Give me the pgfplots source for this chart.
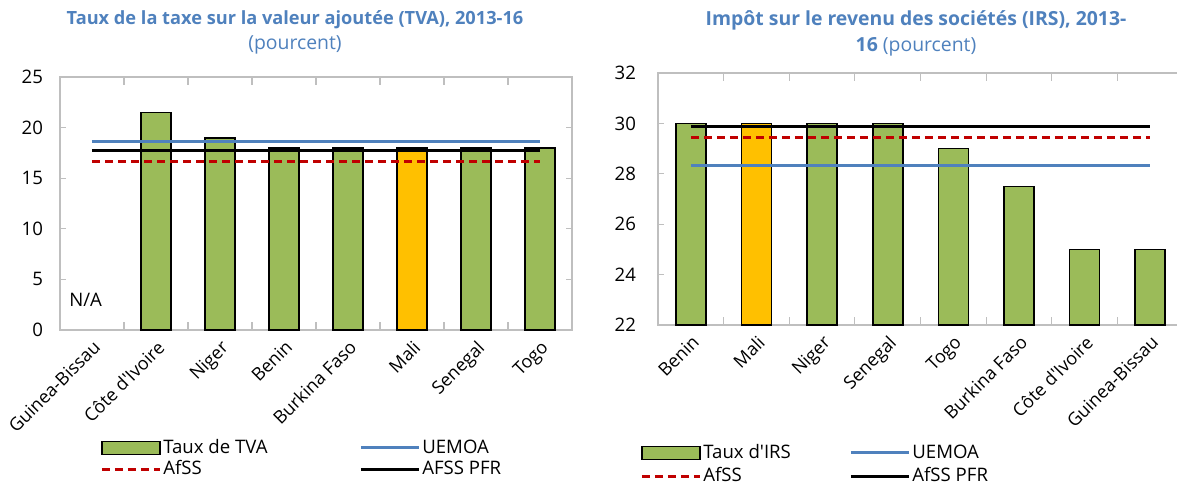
\documentclass[border=0pt]{standalone}
\usepackage{fontspec}
\setmainfont{Open Sans}
\usepackage{pgfplots}
\pgfplotsset{compat=1.18}
\definecolor{tblue}{RGB}{79,129,189}
\definecolor{bgreen}{RGB}{155,187,89}
\definecolor{borange}{RGB}{255,192,0}
\definecolor{dred}{RGB}{192,0,0}
\definecolor{agray}{RGB}{191,191,191}
\pgfplotsset{
  common/.style={
    scale only axis, anchor=south west,
    xmin=-0.5, xmax=7.5,
    xtick={0,...,7},
    minor xtick={0.5,1.5,...,6.5},
    major x tick style={draw=none},
    tick align=inside,
    major tick length=3pt, minor tick length=4pt,
    tick style={agray, line width=0.6pt},
    axis line style={agray, line width=0.8pt},
    /pgf/number format/assume math mode=true,
    tick label style={font=\fontsize{9.3}{10}\selectfont},
    x tick label style={rotate=45, anchor=north east, inner sep=1pt, font=\fontsize{9}{10}\selectfont},
    xticklabel shift=3pt,
    legend columns=2,
    legend cell align=left,
    legend style={draw=none, fill=none, inner sep=0pt, font=\fontsize{9.3}{10}\selectfont,
      nodes={inner sep=1pt}, anchor=north west},
  },
  barimg/.style={legend image code/.code={\draw[fill=bgreen, draw=black, line width=0.8pt] (0pt,-3.3pt) rectangle (29pt,3.3pt);}},
  lineimg/.style={legend image code/.code={\draw[##1] (0pt,0pt) -- (29pt,0pt);}},
}
\begin{document}
\begin{tikzpicture}
\useasboundingbox (0,0) rectangle (588.5pt,244.5pt);
% titles
\node[font=\fontsize{9.1}{10}\bfseries\selectfont, text=tblue] at (147.5pt,234.5pt) {Taux de la taxe sur la valeur ajoutée (TVA), 2013-16};
\node[font=\fontsize{9.7}{10}\selectfont, text=tblue] at (147.5pt,222pt) {(pourcent)};
\node[font=\fontsize{9.7}{10}\bfseries\selectfont, text=tblue] at (458pt,234.5pt) {Impôt sur le revenu des sociétés (IRS), 2013-};
\node[font=\fontsize{9.7}{10}\selectfont, text=tblue] at (458pt,221pt) {\textbf{16} (pourcent)};

% left chart
\begin{axis}[common,
  at={(30pt,79.5pt)}, width=256pt, height=126.5pt,
  ymin=0, ymax=25, ytick={0,5,...,25},
  y tick label style={xshift=-5pt},
  xticklabels={Guinea-Bissau, C\^ote d\textquotesingle Ivoire, Niger, Benin, Burkina Faso, Mali, Senegal, Togo},
  legend style={at={(0.078,-0.423)}},
]
\addplot[ybar, bar width=15pt, fill=bgreen, draw=black, line width=0.8pt, barimg]
  coordinates {(1,21.5) (2,19) (3,18) (4,18) (6,18) (7,18)};
\addlegendentry{\makebox[97pt][l]{Taux de TVA}}
\addplot[ybar, bar width=15pt, fill=borange, draw=black, line width=0.8pt, forget plot]
  coordinates {(5,18)};
\addplot[tblue, line width=1.5pt, lineimg] coordinates {(0,18.65) (7,18.65)};
\addlegendentry{UEMOA}
\addplot[dred, line width=1.5pt, dash pattern=on 4pt off 2.5pt, lineimg] coordinates {(0,16.7) (7,16.7)};
\addlegendentry{\makebox[97pt][l]{AfSS}}
\addplot[black, line width=1.5pt, lineimg] coordinates {(0,17.75) (7,17.75)};
\addlegendentry{AFSS PFR}
\node[font=\fontsize{9.3}{10}\selectfont] at (axis cs:-0.1,3) {N/A};
\end{axis}

% right chart
\begin{axis}[common,
  at={(329pt,82pt)}, width=262.5pt, height=126pt,
  ymin=22, ymax=32, ytick={22,24,...,32},
  y tick label style={xshift=-7.5pt},
  xticklabels={Benin, Mali, Niger, Senegal, Togo, Burkina Faso, C\^ote d\textquotesingle Ivoire, Guinea-Bissau},
  legend style={at={(-0.0343,-0.464)}, row sep=1pt},
]
\addplot[ybar, bar width=15pt, fill=bgreen, draw=black, line width=0.8pt, barimg]
  coordinates {(0,30) (2,30) (3,30) (4,29) (5,27.5) (6,25) (7,25)};
\addlegendentry{\makebox[72pt][l]{Taux d\textquotesingle IRS}}
\addplot[ybar, bar width=15pt, fill=borange, draw=black, line width=0.8pt, forget plot]
  coordinates {(1,30)};
\addplot[tblue, line width=1.5pt, lineimg] coordinates {(0,28.32) (7,28.32)};
\addlegendentry{UEMOA}
\addplot[dred, line width=1.5pt, dash pattern=on 4pt off 2.5pt, lineimg] coordinates {(0,29.43) (7,29.43)};
\addlegendentry{\makebox[72pt][l]{AfSS}}
\addplot[black, line width=1.5pt, lineimg] coordinates {(0,29.86) (7,29.86)};
\addlegendentry{AfSS PFR}
\end{axis}
\end{tikzpicture}
\end{document}
